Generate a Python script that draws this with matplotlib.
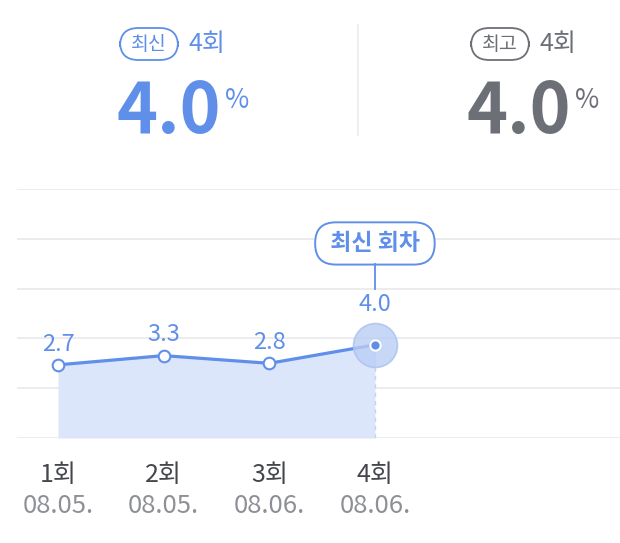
import matplotlib
matplotlib.use("Agg")
import matplotlib.pyplot as plt
from matplotlib.patches import FancyBboxPatch
from matplotlib.transforms import offset_copy

plt.rcParams['font.family'] = ['Noto Sans CJK KR', 'DejaVu Sans']

rounds = ["1회", "2회", "3회", "4회"]
dates = ["08.05.", "08.05.", "08.06.", "08.06."]
values = [2.7, 3.3, 2.8, 4.0]
latest_round = "4회"
latest_value = "4.0"
best_round = "4회"
best_value = "4.0"

BLUE = "#5F8FE9"
GREY = "#6C6F76"
FILL = "#DCE6FA"
GRID = "#EBEBED"

W, H = 620, 543
fig = plt.figure(figsize=(W / 100, H / 100), dpi=100)

def fx(x):
    return x / W

def fy(y):
    return 1 - y / H

# ---- header ----
def pill(xc, yc, w, h, text, color, size):
    box = FancyBboxPatch((fx(xc - w / 2), fy(yc + h / 2)), w / W, h / H,
                         boxstyle=f"round,pad=0,rounding_size={h/2/H}",
                         transform=fig.transFigure, fill=False,
                         edgecolor=color, linewidth=1.3, mutation_aspect=W / H)
    fig.patches.append(box)
    fig.text(fx(xc), fy(yc), text, color=color, fontsize=size,
             ha="center", va="center")

pill(149, 44, 58, 32, "최신", BLUE, 14)
fig.text(fx(189), fy(44), latest_round, color=BLUE, fontsize=18, ha="left", va="center")
fig.text(fx(116), fy(133), latest_value, color=BLUE, fontsize=50, fontweight="bold",
         ha="left", va="baseline")
fig.text(fx(225), fy(108), "%", color=BLUE, fontsize=19, ha="left", va="baseline")

pill(500, 44, 58, 32, "최고", GREY, 14)
fig.text(fx(539), fy(44), best_round, color=GREY, fontsize=18, ha="left", va="center")
fig.text(fx(466), fy(133), best_value, color=GREY, fontsize=50, fontweight="bold",
         ha="left", va="baseline")
fig.text(fx(575), fy(108), "%", color=GREY, fontsize=19, ha="left", va="baseline")

fig.add_artist(plt.Line2D([fx(358), fx(358)], [fy(25), fy(135)],
                          transform=fig.transFigure, color=GRID, linewidth=1.2))

# ---- chart ----
ax = fig.add_axes([fx(17), fy(438), (W - 17) / W, (438 - 189) / H])
xs = list(range(len(values)))
ymin, ymax = -2.05, 14.12
ax.set_ylim(ymin, ymax)
ax.set_xlim(-0.388, 5.32)
for i in range(6):
    yv = ymin + i * (ymax - ymin) / 5
    ax.axhline(yv, color=GRID, linewidth=1.3, zorder=0)
for s in ax.spines.values():
    s.set_visible(False)
ax.set_xticks([])
ax.set_yticks([])
ax.patch.set_alpha(0)

ax.fill_between(xs, values, ymin, color=FILL, zorder=1, linewidth=0)
ax.plot([xs[-1], xs[-1]], [ymin, values[-1]], color="#C5D3F2", linewidth=1,
        linestyle=(0, (3, 3)), zorder=2)
ax.plot(xs, values, color=BLUE, linewidth=2.3, zorder=3)
ax.scatter(xs[:-1], values[:-1], s=70, facecolor="white", edgecolor=BLUE,
           linewidth=1.5, zorder=4)
ax.scatter([xs[-1]], [values[-1]], s=1000, facecolor="#BACDF4", alpha=0.8,
           edgecolor="#A9C0F0", linewidth=1.2, zorder=4)
ax.scatter([xs[-1]], [values[-1]], s=55, facecolor=BLUE, edgecolor="white",
           linewidth=1.5, zorder=5)

for i, v in enumerate(values[:-1]):
    ax.annotate(f"{v:.1f}", (xs[i], v), xytext=(0, 15), textcoords="offset points",
                ha="center", va="center", color=BLUE, fontsize=17, clip_on=False)
ax.annotate(f"{values[-1]:.1f}", (xs[-1], values[-1]), xytext=(0, 29),
            textcoords="offset points", ha="center", va="center", color=BLUE,
            fontsize=17, clip_on=False)

# connector from callout down toward the latest label
tr_top = offset_copy(ax.transData, fig=fig, x=0, y=58, units="points")
tr_bot = offset_copy(ax.transData, fig=fig, x=0, y=40, units="points")
p_top = tr_top.transform((xs[-1], values[-1]))
p_bot = tr_bot.transform((xs[-1], values[-1]))
fig.add_artist(plt.Line2D([p_top[0], p_bot[0]], [p_top[1], p_bot[1]],
                          transform=None, color=BLUE, linewidth=1.3))

# callout pill above the latest point
ax.annotate(" 최신 회차 ", (xs[-1], values[-1]), xytext=(0, 73), textcoords="offset points",
            ha="center", va="center", color=BLUE, fontsize=16.5, fontweight="bold",
            bbox=dict(boxstyle="round,pad=0.42,rounding_size=0.9", facecolor="white",
                      edgecolor=BLUE, linewidth=1.4),
            annotation_clip=False, zorder=6)

# x labels
for i in xs:
    ax.annotate(rounds[i], (xs[i], ymin), xytext=(0, -26.5), textcoords="offset points",
                ha="center", va="center", color="#45474C", fontsize=18,
                annotation_clip=False)
    ax.annotate(dates[i], (xs[i], ymin), xytext=(0, -49), textcoords="offset points",
                ha="center", va="center", color="#8E9096", fontsize=18.5,
                annotation_clip=False)

fig.savefig("out.png", dpi=100, facecolor="white")
